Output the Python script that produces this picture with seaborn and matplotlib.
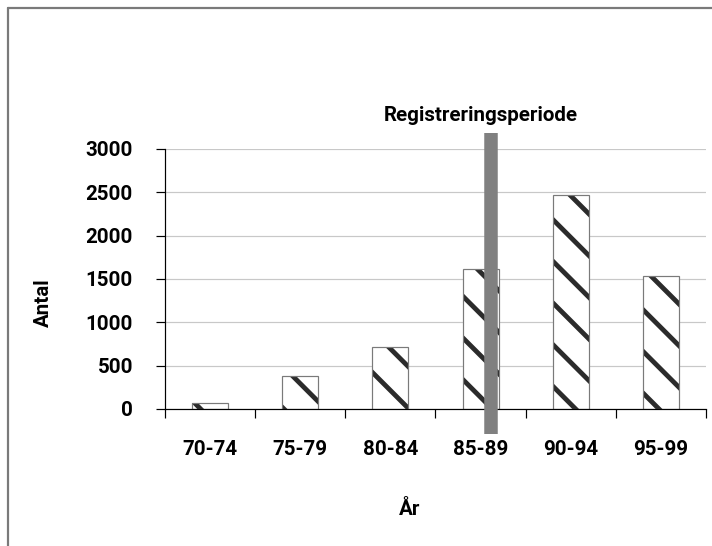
# Antal registreringer per femårsperiode, med markering af registreringsperioden
import seaborn as sns
import matplotlib.pyplot as plt
from matplotlib.lines import Line2D

perioder = ['70-74', '75-79', '80-84', '85-89', '90-94', '95-99']
antal = [70, 380, 720, 1610, 2470, 1535]
y_ticks = [0, 500, 1000, 1500, 2000, 2500, 3000]
periode_x = 3.11          # placering af den grå markering (kategori-enheder)
periode_tekst = 'Registreringsperiode'

DPI = 250
PX = 72 / DPI             # 1 pixel i punkter

sns.set_theme(style='white', rc={'text.color': 'black', 'axes.labelcolor': 'black',
                                 'xtick.color': 'black', 'ytick.color': 'black'})
plt.rcParams['font.family'] = ['Roboto', 'DejaVu Sans']
plt.rcParams['font.weight'] = 'bold'
plt.rcParams['hatch.linewidth'] = 4.8 * PX

fig = plt.figure(figsize=(712 / DPI, 546 / DPI), dpi=DPI)
ax = fig.add_axes([165 / 712, 137 / 546, 541 / 712, 260 / 546])

# skraverede søjler
sns.barplot(x=perioder, y=antal, color='white', saturation=1, width=0.4,
            edgecolor='#2b2b2b', linewidth=0, ax=ax)
for p in ax.patches:
    p.set_hatch('\\\\')
# tynd grå kant omkring søjlerne
sns.barplot(x=perioder, y=antal, fill=False, width=0.4, edgecolor='#7a7a7a',
            linewidth=1.2 * PX, ax=ax)

ax.set_ylim(0, 3000)
ax.set_xlim(-0.5, len(perioder) - 0.5)
ax.set_yticks(y_ticks)
ax.yaxis.grid(True, color='#c8c8c8', linewidth=1.2 * PX)
ax.set_axisbelow(True)

for side in ['top', 'right']:
    ax.spines[side].set_visible(False)
for side in ['left', 'bottom']:
    ax.spines[side].set_color('black')
    ax.spines[side].set_linewidth(1.2 * PX)

fs = 20.5 * PX
ax.tick_params(axis='y', which='major', direction='out', length=9 * PX,
               width=1.2 * PX, color='black', labelcolor='black', pad=23 * PX,
               labelsize=fs, left=True)
ax.set_xticks([i - 0.5 for i in range(len(perioder) + 1)], minor=True)
ax.tick_params(axis='x', which='minor', direction='out', length=9 * PX,
               width=1.2 * PX, color='black', bottom=True)
ax.tick_params(axis='x', which='major', length=0, pad=31 * PX, labelsize=fs,
               labelcolor='black')
for lbl in ax.get_xticklabels() + ax.get_yticklabels():
    lbl.set_fontweight('bold')

ax.set_xlabel('År', fontsize=fs, fontweight='bold', color='black')
ax.set_ylabel('Antal', fontsize=fs, fontweight='bold', color='black')
ax.xaxis.set_label_coords(0.453, -0.35)
ax.yaxis.set_label_coords(-0.207, 0.41)

# grå lodret markering af registreringsperioden
ax.plot([periode_x, periode_x], [-290, 3185], color='#808080',
        linewidth=13.5 * PX, solid_capstyle='butt', clip_on=False, zorder=5)
ax.text(3.0, 3381, periode_tekst, ha='center', va='center', fontsize=fs,
        fontweight='bold', color='black', clip_on=False)

# ramme (kun top og venstre synlig)
fig.add_artist(Line2D([8 / 712, 8 / 712], [0, 1 - 7.5 / 546], color='#7a7a7a',
                      linewidth=2.2 * PX))
fig.add_artist(Line2D([8 / 712, 1], [1 - 7.5 / 546, 1 - 7.5 / 546], color='#7a7a7a',
                      linewidth=2.2 * PX))

fig.savefig('out.png', dpi=DPI)
